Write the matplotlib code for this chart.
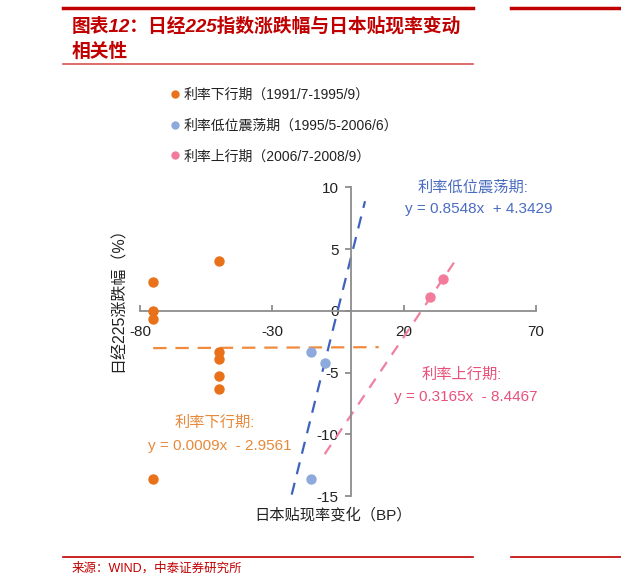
import numpy as np
import matplotlib
matplotlib.use("Agg")
import matplotlib.pyplot as plt
from matplotlib.lines import Line2D

plt.rcParams['font.family'] = ['Liberation Sans', 'Noto Sans CJK SC', 'DejaVu Sans']
plt.rcParams['axes.unicode_minus'] = False

# data
down_x = [-75, -75, -75, -75, -50, -50, -50, -50, -50]
down_y = [2.3, 0.0, -0.7, -13.6, 4.0, -3.3, -3.9, -5.3, -6.3]
low_x = [-15, -10, -15]
low_y = [-3.3, -4.2, -13.6]
up_x = [30, 35]
up_y = [1.1, 2.6]

# trend lines as printed on the chart (slope, intercept, x range)
fit_down = (0.0009, -2.9561, -75, 10.5)
fit_low = (0.8548, 4.3429, -22.5, 5.3)
fit_up = (0.3165, -8.4467, -10, 40)

labels = ["利率下行期（1991/7-1995/9）", "利率低位震荡期（1995/5-2006/6）", "利率上行期（2006/7-2008/9）"]
xticks = [-80, -30, 20, 70]
yticks = [-15, -10, -5, 0, 5, 10]

c_down = '#E8711A'
c_low = '#8EA9DB'
c_up = '#F27B9B'
c_low_line = '#3F62BF'
c_down_line = '#F08A3C'
c_up_line = '#F080A0'

W, H = 621, 588
fig = plt.figure(figsize=(W / 100, H / 100), dpi=100)
ax = fig.add_axes([140 / W, 1 - 496 / H, 395.7 / W, 308.7 / H])

ax.scatter(down_x, down_y, s=42, color=c_down, zorder=3)
ax.scatter(low_x, low_y, s=42, color=c_low, zorder=3)
ax.scatter(up_x, up_y, s=42, color=c_up, zorder=3)

for (k, b, x0, x1), col, dash in [(fit_down, c_down_line, (6, 4)),
                                  (fit_low, c_low_line, (5.5, 4)),
                                  (fit_up, c_up_line, (5, 4))]:
    xs = np.array([x0, x1])
    ax.plot(xs, k * xs + b, color=col, lw=1.6, dashes=dash, zorder=2)

ax.set_xlim(-80, 70)
ax.set_ylim(-15, 10)
ax.set_xticks(xticks)
ax.set_yticks(yticks)
for s in ['top', 'right']:
    ax.spines[s].set_visible(False)
ax.spines['left'].set_position(('data', 0))
ax.spines['bottom'].set_position(('data', 0))
for s in ['left', 'bottom']:
    ax.spines[s].set_color('#8C8C8C')
    ax.spines[s].set_linewidth(1.3)
ax.tick_params(axis='x', direction='in', length=4, width=1.3, color='#8C8C8C',
               labelsize=11, pad=10, labelcolor='#222222')
ax.tick_params(axis='y', direction='out', length=4, width=1.3, color='#8C8C8C',
               labelsize=11, pad=5, labelcolor='#222222')
ax.patch.set_alpha(0)

# axis titles
fig.text(118 / W, 1 - 296 / H, "日经225涨跌幅（%）", rotation=90, ha='center', va='center',
         fontsize=11.5, color='#222222')
fig.text(333 / W, 1 - 515 / H, "日本贴现率变化（BP）", ha='center', va='center',
         fontsize=11, color='#222222')

# trend labels
fig.text(473 / W, 1 - 187 / H, "利率低位震荡期:", ha='center', va='center', fontsize=11, color='#4A6CC0')
fig.text(479 / W, 1 - 209 / H, "y = 0.8548x  + 4.3429", ha='center', va='center', fontsize=11, color='#4A6CC0')
fig.text(462 / W, 1 - 375 / H, "利率上行期:", ha='center', va='center', fontsize=11, color='#E8507A')
fig.text(466 / W, 1 - 397 / H, "y = 0.3165x  - 8.4467", ha='center', va='center', fontsize=11, color='#E8507A')
fig.text(215 / W, 1 - 423 / H, "利率下行期:", ha='center', va='center', fontsize=11, color='#E8893A')
fig.text(220 / W, 1 - 446 / H, "y = 0.0009x  - 2.9561", ha='center', va='center', fontsize=11, color='#E8893A')

# legend
handles = [Line2D([], [], ls='none', marker='o', ms=5, color=c) for c in (c_down, c_low, c_up)]
fig.legend(handles, labels, loc='upper left', bbox_to_anchor=(164 / W, 1 - 81 / H),
           frameon=False, fontsize=10, handlelength=0.6, handletextpad=0.3,
           labelspacing=1.2, borderpad=0, labelcolor='#222222')

# title block
red = '#C00000'
fig.add_artist(Line2D([63 / W, 473 / W], [1 - 8 / H] * 2, color=red, lw=2.5))
fig.add_artist(Line2D([511 / W, 1], [1 - 8 / H] * 2, color=red, lw=2.5))
fig.add_artist(Line2D([63 / W, 473 / W], [1 - 64 / H] * 2, color='#D9534F', lw=1.2))
fig.text(72 / W, 1 - 26 / H, "图表12：日经225指数涨跌幅与日本贴现率变动", ha='left', va='center',
         fontsize=13.5, fontweight='bold', color=red, style='italic')
fig.text(72 / W, 1 - 52 / H, "相关性", ha='left', va='center',
         fontsize=13.5, fontweight='bold', color=red, style='italic')

# source
fig.add_artist(Line2D([63 / W, 473 / W], [1 - 557 / H] * 2, color=red, lw=1.2))
fig.add_artist(Line2D([511 / W, 1], [1 - 557 / H] * 2, color=red, lw=1.2))
fig.text(72 / W, 1 - 568 / H, "来源：WIND，中泰证券研究所", ha='left', va='center',
         fontsize=9, color=red)

fig.savefig("out.png", dpi=100)
